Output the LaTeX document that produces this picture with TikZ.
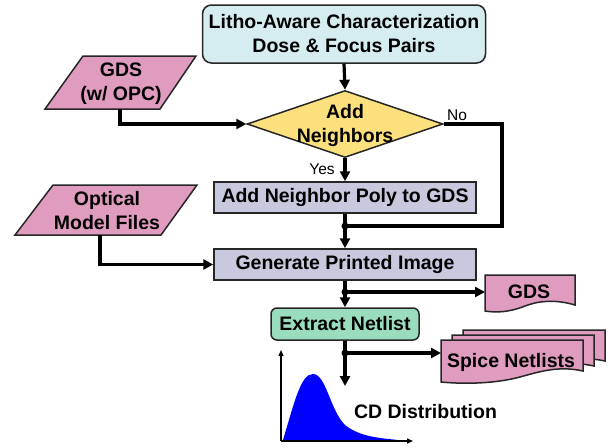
\documentclass[tikz,border=0pt]{standalone}
\usepackage{fontspec}
\setmainfont{Liberation Sans}
\usetikzlibrary{arrows.meta,shapes.geometric}
\definecolor{cyanbox}{HTML}{D6EDEF}
\definecolor{yel}{HTML}{FCE07E}
\definecolor{pinkio}{HTML}{E09CBF}
\definecolor{lav}{HTML}{C8C8DE}
\definecolor{mint}{HTML}{9ADDBE}
\begin{document}
\begin{tikzpicture}[x=1pt,y=-1pt,
 txt/.style={font=\fontsize{19.5}{24}\selectfont\bfseries, align=center, inner sep=0pt},
 small/.style={font=\fontsize{15.5}{18}\selectfont, inner sep=0pt},
 box/.style={draw=black!85, line width=1.5pt, inner sep=0pt, txt},
 conn/.style={line width=3.2pt, -{Triangle[length=10pt,width=10pt]}},
 plain/.style={line width=3.2pt},
 jdot/.style={circle, fill=black, inner sep=0pt, minimum size=7pt},
 io/.style={draw=black!85, line width=1.5pt, fill=pinkio, line join=miter},
 axis/.style={line width=1.3pt, -{Triangle[length=6pt,width=5pt]}},
 doc/.pic={\draw[io] (0,0) -- (142,0) -- (142,31) .. controls (115,25) and (95,33) .. (75,38) .. controls (50,44) and (20,44) .. (0,42) -- cycle;}]
\useasboundingbox (0,0) rectangle (615,447);

% boxes
\node[box, fill=cyanbox, rounded corners=9pt, minimum width=283pt, minimum height=58pt] (top) at (344,34) {Litho-Aware Characterization\\Dose \& Focus Pairs};
\node[diamond, draw=black!85, line width=1.5pt, fill=yel, minimum width=196pt, minimum height=67pt, inner sep=0pt, aspect=2.9] (dec) at (345,124) {};
\node[txt] (dectxt) at (345,125) {Add\\Neighbors};
\node[box, fill=lav, minimum width=262pt, minimum height=31pt] (anp) at (345,197.5) {Add Neighbor Poly to GDS};
\node[box, fill=lav, minimum width=262pt, minimum height=31pt] (gen) at (345,264.5) {Generate Printed Image};
\node[box, fill=mint, rounded corners=6pt, minimum width=148pt, minimum height=32pt] (ext) at (345,324) {Extract Netlist};

% inputs
\draw[io] (83,56) -- (196,56) -- (160,109) -- (45,109) -- cycle;
\node[txt] (gdsin) at (121,84) {GDS\\(w/ OPC)};
\coordinate (gdsout) at (120,109);
\draw[io] (53,185) -- (197,185) -- (161,235) -- (15,235) -- cycle;
\node[txt] (opt) at (107,211) {Optical\\Model Files};
\coordinate (optout) at (100,235);

% outputs
\draw[io] (485,275) -- (575,275) -- (575,305) .. controls (555,299) and (538,301) .. (525,306) .. controls (510,312) and (497,313) .. (485,311) -- cycle;
\node[txt] (gdsdoc) at (529,292) {GDS};
\coordinate (gdsdocin) at (485,292);
\pic at (463,330) {doc};
\pic at (452,335) {doc};
\pic at (441,340) {doc};
\node[txt] (spice) at (511,362) {Spice Netlists};
\coordinate (spicein) at (441,353);

% junctions
\node[jdot] (j1) at (345,226) {};
\node[jdot] (j2) at (345,292) {};
\node[jdot] (j3) at (345,353) {};
\coordinate (cdtop) at (345,386);

% connectors
\draw[conn] (top.south) -- (dec.north);
\draw[conn] (gdsout) |- (dec.west);
\draw[plain] (dec.east) -- (502,124) -- (502,226) -- (j1.center);
\draw[conn] (dec.south) -- (anp.north);
\draw[conn] (anp.south) -- (gen.north);
\draw[conn] (optout) |- (gen.west);
\draw[conn] (gen.south) -- (ext.north);
\draw[conn] (j2.center) -- (gdsdocin);
\draw[conn] (ext.south) -- (cdtop);
\draw[conn] (j3.center) -- (spicein);
\node[small] (no) at (457,115) {No};
\node[small] (yes) at (322,169) {Yes};

% CD distribution
\coordinate (org) at (281,441);
\coordinate (yend) at (281,350);
\coordinate (xend) at (413,441);
\fill[blue] (283,440) .. controls (295,400) and (301,374) .. (313,374) .. controls (326,374) and (330,410) .. (345,425) .. controls (360,437) and (380,438) .. (398,440) -- cycle;
\draw[axis] (org) -- (yend);
\draw[axis] (org) -- (xend);
\node[txt] (cd) at (425.5,412) {CD Distribution};
\end{tikzpicture}
\end{document}
